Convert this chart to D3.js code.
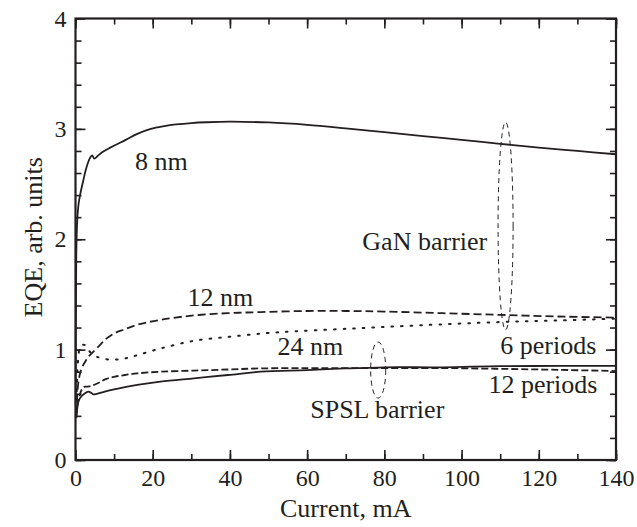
<!DOCTYPE html>
<html>
<head>
<meta charset="utf-8">
<script src="https://cdn.jsdelivr.net/npm/d3@7"></script>
<style>
  body { margin: 0; background: #fff; }
  svg text { font-family: "Liberation Serif", "Times New Roman", Times, "DejaVu Serif", serif !important; fill: #231f20; }
</style>
</head>
<body>
<div id="chart"></div>
<script>
// ---- data ----
var xTicks = [0, 20, 40, 60, 80, 100, 120, 140];
var yTicks = [0, 1, 2, 3, 4];

// GaN barrier, 8 nm (solid)
var cur8nm = [0.05, 0.1, 0.2, 0.45, 0.8, 1.3, 2, 2.6, 3.3, 3.9, 4.3, 4.9, 5.6, 7, 9, 11, 13, 16, 19.5, 23, 26, 30, 34, 40, 50, 60, 70, 80, 90, 100, 110, 120, 130, 140];
var eqe8nm = [0.5, 1.3, 1.85, 2.17, 2.32, 2.42, 2.53, 2.62, 2.7, 2.745, 2.76, 2.73, 2.75, 2.79, 2.83, 2.865, 2.9, 2.955, 3.0, 3.025, 3.04, 3.053, 3.06, 3.065, 3.058, 3.037, 3.005, 2.97, 2.935, 2.9, 2.865, 2.83, 2.8, 2.77];

// GaN barrier, 12 nm (dashed)
var cur12nm = [0.2, 0.4, 0.73, 1.3, 2.0, 2.5, 3.2, 4.2, 6, 8, 10.2, 12.4, 16, 22, 30.7, 39.4, 48, 60, 70, 80, 95, 110, 125, 140];
var eqe12nm = [0.42, 0.55, 0.70, 0.80, 0.86, 0.89, 0.93, 0.966, 1.03, 1.10, 1.15, 1.18, 1.225, 1.27, 1.31, 1.33, 1.34, 1.35, 1.35, 1.345, 1.33, 1.315, 1.30, 1.29];

// GaN barrier, 24 nm (dotted)
var cur24nm = [0.2, 0.4, 0.6, 1.0, 1.5, 2.1, 2.8, 3.5, 4.5, 5.6, 7.6, 10.2, 12.8, 16, 22, 30.7, 39.4, 48, 54, 71, 89, 110, 125, 140];
var eqe24nm = [0.45, 0.7, 0.87, 1.0, 1.035, 1.045, 1.03, 0.99, 0.955, 0.935, 0.915, 0.91, 0.92, 0.95, 1.01, 1.08, 1.115, 1.145, 1.16, 1.19, 1.22, 1.25, 1.265, 1.28];

// SPSL barrier, 6 periods (solid)
var cur6p = [0.2, 0.5, 0.86, 1.5, 2.3, 3.3, 4.0, 4.6, 5.5, 7.6, 10, 12.8, 16, 22, 30.7, 39.5, 48, 60, 70, 80, 95, 110, 125, 140];
var eqe6p = [0.38, 0.48, 0.54, 0.575, 0.60, 0.62, 0.61, 0.595, 0.60, 0.62, 0.64, 0.66, 0.68, 0.71, 0.74, 0.77, 0.80, 0.815, 0.83, 0.84, 0.84, 0.85, 0.852, 0.853];

// SPSL barrier, 12 periods (dashed)
var cur12p = [0.2, 0.5, 1.0, 1.5, 2.0, 2.5, 3.2, 4.0, 6, 8, 10.2, 12.8, 16, 22, 30.7, 39.5, 48, 60, 70, 80, 95, 110, 125, 140];
var eqe12p = [0.40, 0.50, 0.57, 0.63, 0.655, 0.665, 0.665, 0.67, 0.70, 0.735, 0.755, 0.77, 0.785, 0.80, 0.81, 0.82, 0.83, 0.832, 0.833, 0.833, 0.833, 0.826, 0.817, 0.806];

var series = [
  {x: cur8nm,  y: eqe8nm,  dash: null},
  {x: cur12nm, y: eqe12nm, dash: "8,4"},
  {x: cur24nm, y: eqe24nm, dash: "1.6,8"},
  {x: cur6p,   y: eqe6p,   dash: null},
  {x: cur12p,  y: eqe12p,  dash: "7,3"}
];

// labels: [text, current, eqe, anchor]
var labels = [
  ["8 nm", 15.4, 2.63, "start"],
  ["GaN barrier", 74.3, 1.90, "start"],
  ["12 nm", 29.0, 1.395, "start"],
  ["24 nm", 52.3, 0.951, "start"],
  ["SPSL barrier", 60.8, 0.38, "start"],
  ["6 periods", 134.9, 0.96, "end"],
  ["12 periods", 135.2, 0.607, "end"]
];
// dashed ellipses: [current, eqe, rx (mA), ry (EQE)]
var ellipses = [
  [111.4, 2.12, 1.95, 0.94],
  [78.4, 0.815, 1.95, 0.254]
];

var W = 637, H = 527;
var margin = {top: 18.5, right: 21, bottom: 67, left: 75.5};
var width = W - margin.left - margin.right,
    height = H - margin.top - margin.bottom;

var svg = d3.select("#chart").append("svg")
    .attr("width", W).attr("height", H)
    .attr("font-family", "'Liberation Serif', 'Times New Roman', serif")
  .append("g")
    .attr("transform", "translate(" + margin.left + "," + margin.top + ")");

var x = d3.scaleLinear().domain([0, 140]).range([0, width]);
var y = d3.scaleLinear().domain([0, 4]).range([height, 0]);

var minorX = d3.range(0, 141, 10), minorY = d3.range(0, 4.01, 0.2);

function styleAxis(g) {
  g.attr("font-family", null);
  g.select(".domain").remove();
  g.selectAll(".tick line").attr("stroke", "#231f20").attr("stroke-width", 1.6);
  g.selectAll(".tick text").style("font-size", "24px").attr("fill", "#231f20");
}

// minor ticks
svg.append("g").attr("transform", "translate(0," + height + ")")
  .call(d3.axisBottom(x).tickValues(minorX).tickSize(-6).tickFormat("")).call(styleAxis);
svg.append("g")
  .call(d3.axisTop(x).tickValues(minorX).tickSize(-6).tickFormat("")).call(styleAxis);
svg.append("g")
  .call(d3.axisLeft(y).tickValues(minorY).tickSize(-6).tickFormat("")).call(styleAxis);
svg.append("g").attr("transform", "translate(" + width + ",0)")
  .call(d3.axisRight(y).tickValues(minorY).tickSize(-6).tickFormat("")).call(styleAxis);

// major ticks
svg.append("g").attr("transform", "translate(0," + height + ")")
  .call(d3.axisBottom(x).tickValues(xTicks).tickSize(-10).tickPadding(9).tickFormat(d3.format("d"))).call(styleAxis);
svg.append("g")
  .call(d3.axisTop(x).tickValues(xTicks).tickSize(-10).tickFormat("")).call(styleAxis);
svg.append("g")
  .call(d3.axisLeft(y).tickValues(yTicks).tickSize(-10).tickPadding(9).tickFormat(d3.format("d"))).call(styleAxis);
svg.append("g").attr("transform", "translate(" + width + ",0)")
  .call(d3.axisRight(y).tickValues(yTicks).tickSize(-10).tickFormat("")).call(styleAxis);

// frame
svg.append("rect").attr("x", 0).attr("y", 0).attr("width", width).attr("height", height)
  .attr("fill", "none").attr("stroke", "#231f20").attr("stroke-width", 2.2);

// curves
var line = d3.line()
  .x(function(d) { return x(d[0]); })
  .y(function(d) { return y(d[1]); })
  .curve(d3.curveCatmullRom.alpha(0.5));

series.forEach(function(s) {
  var pts = s.x.map(function(v, i) { return [v, s.y[i]]; });
  svg.append("path").datum(pts)
    .attr("d", line)
    .attr("fill", "none")
    .attr("stroke", "#231f20")
    .attr("stroke-width", s.dash === "1.6,8" ? 2 : 1.8)
    .attr("stroke-linecap", s.dash === "1.6,8" ? "round" : "butt")
    .attr("stroke-dasharray", s.dash);
});

// dashed ellipses
svg.selectAll(".ell").data(ellipses).enter().append("ellipse")
  .attr("cx", function(d) { return x(d[0]); })
  .attr("cy", function(d) { return y(d[1]); })
  .attr("rx", function(d) { return x(d[2]) - x(0); })
  .attr("ry", function(d) { return y(0) - y(d[3]); })
  .attr("fill", "none").attr("stroke", "#231f20")
  .attr("stroke-width", 1).attr("stroke-dasharray", "5,4");

// labels
svg.selectAll(".lab").data(labels).enter().append("text")
  .attr("x", function(d) { return x(d[1]); })
  .attr("y", function(d) { return y(d[2]); })
  .attr("text-anchor", function(d) { return d[3]; })
  .style("font-size", "26px")
  .text(function(d) { return d[0]; });

// axis titles
svg.append("text")
  .attr("x", width / 2).attr("y", height + 57)
  .attr("text-anchor", "middle").style("font-size", "26px")
  .text("Current, mA");
svg.append("text")
  .attr("transform", "rotate(-90)")
  .attr("x", -height / 2 + 2).attr("y", -34)
  .attr("text-anchor", "middle").style("font-size", "26px")
  .text("EQE, arb. units");
</script>
</body>
</html>
